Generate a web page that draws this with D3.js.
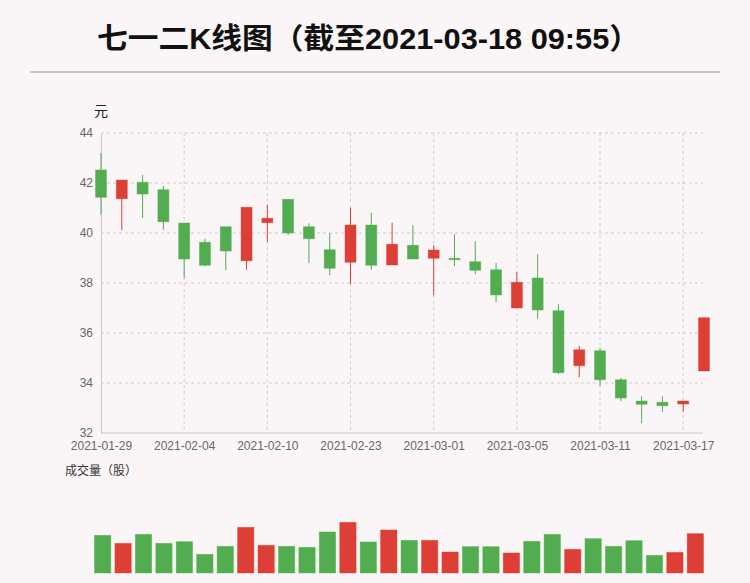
<!DOCTYPE html>
<html>
<head>
<meta charset="utf-8">
<script src="https://cdn.jsdelivr.net/npm/d3@7/dist/d3.min.js"></script>
<style>
    body { margin: 0; background: #faf6f7; }
    svg { display: block; }
</style>
</head>
<body>
<script>
const width = 750,
    height = 583;

const dates = ["2021-01-29", "2021-02-01", "2021-02-02", "2021-02-03", "2021-02-04",
    "2021-02-05", "2021-02-08", "2021-02-09", "2021-02-10", "2021-02-18",
    "2021-02-19", "2021-02-22", "2021-02-23", "2021-02-24", "2021-02-25",
    "2021-02-26", "2021-03-01", "2021-03-02", "2021-03-03", "2021-03-04",
    "2021-03-05", "2021-03-08", "2021-03-09", "2021-03-10", "2021-03-11",
    "2021-03-12", "2021-03-15", "2021-03-16", "2021-03-17", "2021-03-18"];

const open = [42.52, 41.37, 42.03, 41.73, 40.40, 39.63, 40.25, 38.89, 40.41, 41.35,
    40.25, 39.33, 38.83, 40.32, 38.72, 39.51, 38.99, 38.99, 38.85, 38.53,
    37.00, 38.20, 36.89, 34.69, 35.29, 34.13, 33.28, 33.23, 33.16, 34.48];
const close = [41.43, 42.12, 41.56, 40.45, 38.96, 38.71, 39.28, 41.03, 40.59, 40.00,
    39.77, 38.59, 40.32, 38.71, 39.55, 38.96, 39.32, 38.99, 38.51, 37.52,
    38.03, 36.92, 34.41, 35.33, 34.13, 33.40, 33.15, 33.09, 33.28, 36.61];
const high = [43.20, 42.12, 42.32, 41.89, 40.40, 39.77, 40.25, 41.03, 41.13, 41.35,
    40.39, 40.00, 41.01, 40.81, 40.41, 40.32, 39.51, 39.95, 39.68, 38.80,
    38.44, 39.15, 37.15, 35.49, 35.40, 34.21, 33.47, 33.47, 33.28, 36.61];
const low = [40.73, 40.11, 40.60, 40.13, 38.20, 38.67, 38.51, 38.53, 39.64, 39.91,
    38.80, 38.31, 37.97, 38.53, 38.72, 38.96, 37.51, 38.67, 38.35, 37.23,
    37.00, 36.57, 34.35, 34.23, 33.87, 33.28, 32.39, 32.84, 32.85, 34.48];
const volume = [113000, 89000, 116000, 89000, 94000, 56000, 80000, 137000, 83000, 80000,
    77000, 123000, 152000, 93000, 129000, 98000, 98000, 63000, 79000, 79000,
    60000, 95000, 116000, 71000, 103000, 80000, 97000, 53000, 62000, 118000];

const yTicks = [32, 34, 36, 38, 40, 42, 44];

const up = "#dd3f36",
    down = "#52ad50";

const font = "'Liberation Sans', 'Noto Sans CJK SC', sans-serif";

const svg = d3.select("body")
    .append("svg")
    .attr("width", width)
    .attr("height", height)
    .style("font-family", font);

// title, stretched to the width it has in the original
svg.append("text")
    .attr("x", 97)
    .attr("y", 49)
    .attr("font-size", 29)
    .attr("font-weight", "bold")
    .attr("fill", "#111")
    .attr("textLength", 543)
    .attr("lengthAdjust", "spacingAndGlyphs")
    .text("七一二K线图（截至2021-03-18 09:55）");

svg.append("line")
    .attr("x1", 30).attr("x2", 720)
    .attr("y1", 72).attr("y2", 72)
    .attr("stroke", "#c6c4c5")
    .attr("stroke-width", 2);

// candle chart
const x = d3.scalePoint()
    .domain(dates)
    .range([101, 704]);

const y = d3.scaleLinear()
    .domain([32, 44])
    .range([433, 133]);

const grid = svg.append("g");

grid.selectAll(".hgrid")
    .data(yTicks.slice(1))
    .enter().append("line")
    .attr("x1", 101).attr("x2", 703)
    .attr("y1", d => y(d)).attr("y2", d => y(d))
    .attr("stroke", "#cfcccd")
    .attr("stroke-dasharray", "3,3");

grid.selectAll(".vgrid")
    .data(dates.filter((d, i) => i % 4 === 0 && i > 0))
    .enter().append("line")
    .attr("x1", d => x(d)).attr("x2", d => x(d))
    .attr("y1", 133).attr("y2", 433)
    .attr("stroke", "#cfcccd")
    .attr("stroke-dasharray", "3,3");

const yAxis = svg.append("g")
    .attr("transform", "translate(101,0)")
    .call(d3.axisLeft(y).tickValues(yTicks).tickSize(0).tickPadding(8));

const xAxis = svg.append("g")
    .attr("transform", "translate(0,433)")
    .call(d3.axisBottom(x)
        .tickValues(dates.filter((d, i) => i % 4 === 0))
        .tickSize(0).tickPadding(8));

xAxis.select(".domain").attr("d", "M101,0H703");

[yAxis, xAxis].forEach(function (a) {
    a.select(".domain").attr("stroke", "#c8c6c7");
    a.selectAll("text")
        .attr("fill", "#666")
        .attr("font-size", 12)
        .attr("font-family", font);
});

svg.append("text")
    .attr("x", 94)
    .attr("y", 116)
    .attr("font-size", 14)
    .attr("fill", "#222")
    .attr("font-family", "'Noto Sans CJK SC', sans-serif")
    .text("元");

const candles = svg.append("g")
    .selectAll("g")
    .data(dates)
    .enter().append("g")
    .attr("transform", d => "translate(" + x(d) + ",0)");

const colorOf = i => close[i] > open[i] ? up : down;

candles.append("line")
    .attr("y1", (d, i) => y(high[i]))
    .attr("y2", (d, i) => y(low[i]))
    .attr("stroke", (d, i) => colorOf(i))
    .attr("stroke-width", 1);

candles.append("rect")
    .attr("x", -5.5)
    .attr("width", 11)
    .attr("y", (d, i) => y(Math.max(open[i], close[i])))
    .attr("height", (d, i) => Math.max(1.5, Math.abs(y(open[i]) - y(close[i]))))
    .attr("fill", (d, i) => colorOf(i))
    .attr("stroke", (d, i) => colorOf(i))
    .attr("stroke-opacity", 0.55)
    .attr("stroke-width", 0.8);

// volume chart
svg.append("text")
    .attr("x", 65)
    .attr("y", 475)
    .attr("font-size", 12)
    .attr("fill", "#333")
    .attr("font-family", "'Noto Sans CJK SC', sans-serif")
    .text("成交量（股）");

const xv = d3.scaleBand()
    .domain(dates)
    .range([90.4, 707.6])
    .padding(0.2);

const yv = d3.scaleLinear()
    .domain([0, d3.max(volume)])
    .range([573, 522.3]);

svg.append("g")
    .selectAll("rect")
    .data(dates)
    .enter().append("rect")
    .attr("x", d => xv(d))
    .attr("width", xv.bandwidth())
    .attr("y", (d, i) => yv(volume[i]))
    .attr("height", (d, i) => yv(0) - yv(volume[i]))
    .attr("fill", (d, i) => close[i] >= open[i] ? up : down)
    .attr("stroke", (d, i) => close[i] >= open[i] ? up : down)
    .attr("stroke-opacity", 0.5)
    .attr("stroke-width", 0.8);
</script>
</body>
</html>
